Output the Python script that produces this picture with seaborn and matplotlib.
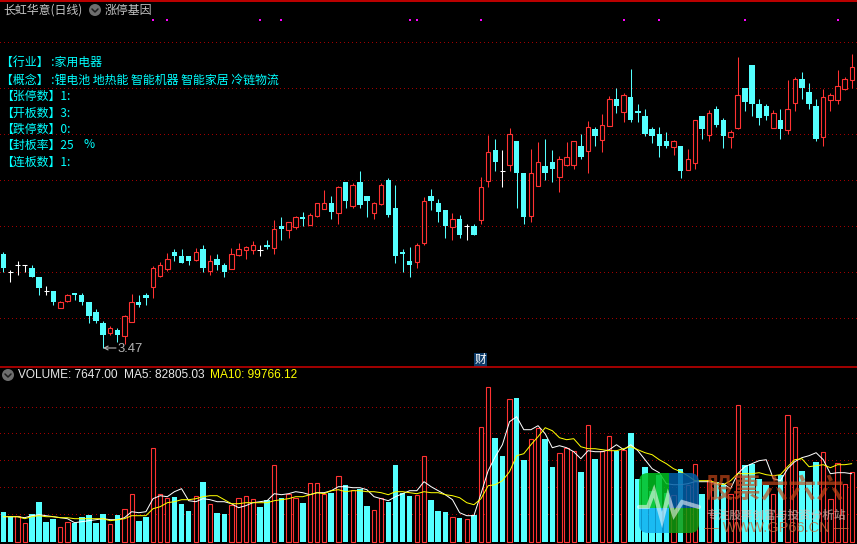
import matplotlib
matplotlib.use("Agg")
import matplotlib.pyplot as plt
from matplotlib.patches import FancyBboxPatch, Rectangle, Circle
import numpy as np
import seaborn as sns

# Prices in cents
opens = [439,421,428,428,425,416,402,402,385,392,400,398,391,381,370,360,363,357,371,391,398,406,417,424,441,437,437,433,444,422,434,428,424,438,443,443,443,448,445,467,
         463,466,476,468,477,484,490,480,511,487,511,497,480,489,513,485,441,432,431,450,497,490,483,466,474,467,467,473,512,543,522,528,552,520,477,507,527,531,516,528,
         528,547,542,564,553,567,594,581,596,582,577,564,559,552,546,547,523,530,577,558,584,573,556,565,605,628,589,587,565,573,563,590,614,601,587,556,593,593,604,613]
highs = [441,423,432,428,428,416,407,402,392,399,400,400,391,384,372,367,365,378,399,398,400,427,431,440,444,444,437,445,448,438,439,430,445,450,447,452,448,453,473,476,
         471,477,481,480,490,503,497,507,511,510,522,497,491,510,515,508,444,446,450,496,504,494,483,480,478,469,469,516,558,554,543,565,552,520,544,551,554,543,537,551,
         552,559,572,566,579,597,605,600,624,589,584,566,566,561,553,547,544,573,577,583,587,575,563,636,605,628,594,589,583,584,613,616,621,610,594,604,600,623,616,639]
lows = [421,411,418,421,416,398,398,388,385,391,393,388,370,370,345,358,351,349,371,386,388,395,416,422,432,430,428,432,421,418,423,416,424,437,434,439,437,444,439,453,
        455,464,467,468,476,484,474,469,485,485,485,476,474,488,476,430,421,416,425,448,483,471,455,453,455,453,458,469,506,522,506,522,485,469,471,507,513,511,501,527,
        524,534,520,547,541,567,580,571,571,571,557,550,536,545,538,515,523,524,554,552,566,545,545,564,582,577,568,573,565,554,559,582,594,584,552,547,582,589,603,605]
closes = [425,421,428,428,416,405,402,391,391,398,398,391,377,372,358,365,358,377,391,388,395,425,428,434,437,430,432,441,425,432,428,421,439,444,446,448,443,446,464,464,
          471,476,474,478,490,490,481,506,492,508,488,492,490,508,478,437,439,428,448,492,492,481,467,474,458,467,458,506,541,531,522,559,520,476,520,531,520,524,534,536,
          552,536,566,557,568,594,587,598,573,580,559,557,547,547,552,522,534,573,564,580,568,557,561,598,591,589,575,577,580,564,584,614,605,589,554,596,598,607,614,626]

# Volume, in picture units (about 1250 lots each)
volume = [30,25,26,19,28,40,20,23,15,20,19,25,27,19,28,18,27,33,48,21,25,94,48,44,45,38,31,46,60,38,29,28,37,44,46,43,35,42,77,44,
          48,44,39,59,59,48,49,66,57,52,53,36,32,44,40,77,49,46,47,86,42,31,30,25,24,23,27,115,155,104,86,143,144,82,103,114,103,75,89,94,
          91,70,117,83,91,106,91,92,109,63,75,51,67,49,47,73,57,78,48,62,60,57,48,137,77,78,63,57,48,67,127,115,71,60,80,90,43,79,58,70]
volume_up = [2,3,8,9,15,17,18,21,22,23,27,29,32,33,34,35,38,40,41,43,44,45,47,49,52,53,58,59,63,65,67,68,71,74,75,78,79,80,82,84,85,87,94,96,97,99,102,103,108,110,111,115,116,117,118,119]
ma5 = [25,25,25,24,26,27,26,25,24,23,19,20,21,22,23,22,22,24,30,29,30,43,46,45,50,53,41,40,43,42,40,40,38,34,36,39,40,41,48,47,
       48,50,49,47,49,49,51,55,55,54,54,52,45,43,41,45,48,51,51,60,55,51,47,42,29,26,26,48,71,85,97,120,125,112,112,116,108,94,96,94,
       90,83,91,90,90,92,97,92,97,91,82,73,69,58,57,57,58,60,60,60,58,58,53,68,75,78,81,82,63,61,73,80,84,86,89,82,68,69,69,68]
ma10 = [25,25,25,23,25,26,25,25,24,24,23,23,23,23,23,21,22,23,26,26,26,33,35,39,40,42,42,43,45,46,46,42,38,38,39,39,39,39,41,42,
        43,45,45,47,49,48,51,52,50,51,51,50,50,49,47,50,50,49,48,50,49,49,47,46,44,39,37,43,56,57,61,70,86,88,97,105,114,111,104,102,
        103,95,93,93,92,91,91,93,95,92,89,87,82,78,73,70,66,61,61,61,59,57,61,68,68,68,69,67,66,67,75,82,83,75,76,77,74,77,77,78]
marker_days = [21,23,36,39,57,58,67,87,92,104,117]
marker_level = [673] * len(marker_days)
price_grid = [651,605,559,513,467,421,375]
volume_grid = [27.4,54.4,81.4,108.4,134.4]

info_lines = ["【行业】 :家用电器", "【概念】 :锂电池 地热能 智能机器 智能家居 冷链物流", "【张停数】1:", "【开板数】3:",
              "【跌停数】0:", "【封板率】25", "【连板数】1:"]

CYAN = "#54ffff"
RED = "#ff3232"
GRID = "#a00000"
BG = "#000000"
CJK = ["Noto Sans CJK SC", "DejaVu Sans"]

sns.set_theme(style="dark", rc={"axes.facecolor": BG, "figure.facecolor": BG, "savefig.facecolor": BG})
plt.rcParams["font.family"] = CJK

fig = plt.figure(figsize=(8.57, 5.44), dpi=100)
ax1 = fig.add_axes([0, 177 / 544, 1, 367 / 544])
ax2 = fig.add_axes([0, 0, 1, 177 / 544])
over = fig.add_axes([0, 0, 1, 1])
over.set_xlim(0, 857); over.set_ylim(544, 0); over.axis("off"); over.patch.set_alpha(0)

days = np.arange(len(opens))
o, h, l, c = map(np.array, (opens, highs, lows, closes))
xleft, xright = -3.3 / 7.13, (857 - 3.3) / 7.13
dotted = (0, (0.7, 3.3))

# price panel
for g in price_grid:
    ax1.axhline(g, color=GRID, lw=0.72, ls=dotted, zorder=1, antialiased=False)
up, down, flat = c > o, c < o, c == o
for mask, col in ((up, RED), (down, CYAN), (flat, "#ffffff")):
    ax1.vlines(days[mask], l[mask], h[mask], color=col, lw=0.75, zorder=2)
ax1.bar(days[down], (o - c)[down], bottom=c[down], width=0.76, color=CYAN, lw=0, zorder=3)
ax1.bar(days[up], (c - o)[up], bottom=o[up], width=0.62, facecolor=BG, edgecolor=RED, lw=0.8, zorder=3)
ax1.hlines(o[flat], days[flat] - 0.36, days[flat] + 0.36, color="#ffffff", lw=0.75, zorder=3)
sns.scatterplot(x=marker_days, y=marker_level, ax=ax1, color="#ff00ff", marker="s", s=3.2, linewidth=0, zorder=4)
ax1.set_xlim(xleft, xright); ax1.set_ylim(326, 693)
ax1.set_axis_off()

# volume panel
vol = np.array(volume, dtype=float)
is_up = np.isin(days, volume_up)
for g in volume_grid:
    ax2.axhline(g, color=GRID, lw=0.72, ls=dotted, zorder=1, antialiased=False)
sns.barplot(x=days[~is_up], y=vol[~is_up], ax=ax2, native_scale=True, color=CYAN, saturation=1,
            width=0.78, linewidth=0, errorbar=None, zorder=2)
n_before = len(ax2.patches)
sns.barplot(x=days[is_up], y=vol[is_up], ax=ax2, native_scale=True, color=BG, saturation=1,
            width=0.6, linewidth=0.8, errorbar=None, zorder=2)
for p in ax2.patches[n_before:]:
    p.set_facecolor(BG); p.set_edgecolor(RED); p.set_linewidth(0.8)
sns.lineplot(x=days, y=ma5, ax=ax2, color="#ffffff", lw=0.72, estimator=None, zorder=4)
sns.lineplot(x=days, y=ma10, ax=ax2, color="#ffff00", lw=0.72, estimator=None, zorder=4)
ax2.set_xlim(xleft, xright); ax2.set_ylim(-2.3, 174.7)
ax2.set_axis_off()

# frame lines
over.axhline(0.5, color="#c00000", lw=1.4)
over.axhline(367, color="#c00000", lw=1.2)

# header
GRAY = "#c4c4c4"
def icon(x, y):
    over.add_patch(Circle((x, y), 6, facecolor="#6e6e6e", edgecolor="none"))
    over.plot([x - 3, x, x + 3], [y - 1, y + 2, y - 1], color="#1c1c1c", lw=1.1)
over.text(3, 10, "长虹华意(日线)", color=GRAY, fontsize=8.6, va="center", ha="left")
icon(95, 10)
over.text(105, 10, "涨停基因", color=GRAY, fontsize=8.6, va="center", ha="left")

# left information block
ys = [62, 80, 96, 113, 129, 145, 162]
for y, line in zip(ys, info_lines):
    over.text(1, y, line, color="#00ffff", fontsize=8.6, va="center", ha="left")
over.text(84, 145, "%", color="#00ffff", fontsize=8.6, va="center", ha="left")

# low label
over.annotate("", xy=(103, 348), xytext=(116, 348),
              arrowprops=dict(arrowstyle="->", color="#b4b4b4", lw=0.8, mutation_scale=7, shrinkA=0, shrinkB=0))
over.text(117, 349.5, "3.47", color="#b4b4b4", fontsize=9.4, family="Liberation Sans", va="center", ha="left")

# 财 tag
over.add_patch(Rectangle((474, 353), 13.5, 14, facecolor="#0b3a68", edgecolor="none"))
over.text(480.7, 359.8, "财", color="#ffffff", fontsize=8.4, va="center", ha="center")

# volume header
icon(8, 375)
LAT = "Liberation Sans"
over.text(18, 375, "VOLUME: 7647.00", color="#e8e8e8", fontsize=8.6, family=LAT, va="center")
over.text(124, 375, "MA5: 82805.03", color="#e8e8e8", fontsize=8.6, family=LAT, va="center")
over.text(210, 375, "MA10: 99766.12", color="#ffff00", fontsize=8.6, family=LAT, va="center")

# watermark
box = FancyBboxPatch((639, 473), 60, 60, boxstyle="round,pad=0,rounding_size=9", facecolor="none", edgecolor="none")
over.add_patch(box)
for (x0, y0, w, ht, col) in [(639, 473, 30, 35, "#00c020"), (669, 473, 30, 35, "#005fa8"),
                             (639, 508, 30, 25, "#10b0f0"), (669, 508, 30, 25, "#109c10")]:
    r = Rectangle((x0, y0), w, ht, facecolor=col, edgecolor="none", alpha=0.85, zorder=5)
    over.add_patch(r)
    r.set_clip_path(box)
over.plot([639, 648, 654, 662, 668, 674, 682, 699], [507, 507, 491, 520, 496, 515, 502, 507],
          color="#ffffff", alpha=0.55, lw=3, zorder=6, solid_joinstyle="miter")
over.text(775, 490, "股票六六六", color="#c84818", alpha=0.68, fontsize=20, weight="bold",
          va="center", ha="center", zorder=6)
over.text(776, 515, "专注股票创富与投资分析站", color="#e0c0b8", alpha=0.6, fontsize=8.4, weight="bold",
          va="center", ha="center", zorder=6)
over.text(776, 528.5, "— WWW.GP66.CN —", color="#c87040", alpha=0.78, fontsize=10.5, family=LAT,
          va="center", ha="center", zorder=6)

fig.savefig("out.png", dpi=100, facecolor=BG)
